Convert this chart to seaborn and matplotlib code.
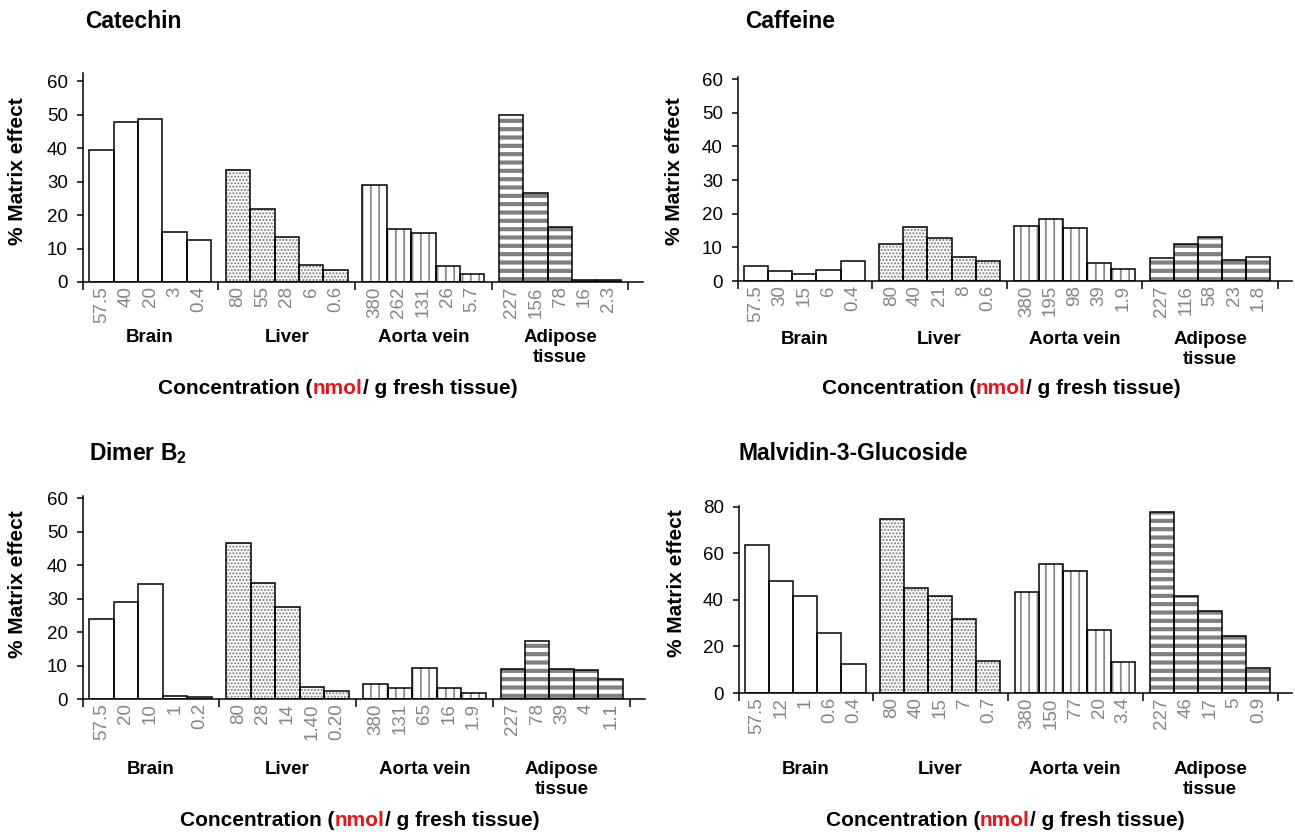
import matplotlib
matplotlib.use("Agg")
import matplotlib.pyplot as plt
import matplotlib.transforms as mtransforms
from matplotlib.offsetbox import TextArea, HPacker, AnnotationBbox
from matplotlib.ticker import FixedLocator
import numpy as np
import pandas as pd
import seaborn as sns

sns.set_theme(style="white")
plt.rcParams["font.family"] = ["Liberation Sans", "DejaVu Sans"]
plt.rcParams["mathtext.fontset"] = "custom"
plt.rcParams["mathtext.rm"] = "Liberation Sans"
plt.rcParams["mathtext.bf"] = "Liberation Sans:bold"

# ---------------- data ----------------
tissues = ["Brain", "Liver", "Aorta vein", "Adipose\ntissue"]

catechin_conc = [["57.5", "40", "20", "3", "0.4"],
                 ["80", "55", "28", "6", "0.6"],
                 ["380", "262", "131", "26", "5.7"],
                 ["227", "156", "78", "16", "2.3"]]
catechin_vals = [[39.4, 47.7, 48.7, 14.8, 12.5],
                 [33.3, 21.8, 13.3, 5.0, 3.7],
                 [28.9, 15.8, 14.7, 4.7, 2.3],
                 [49.9, 26.5, 16.5, 0.5, 0.5]]

caffeine_conc = [["57.5", "30", "15", "6", "0.4"],
                 ["80", "40", "21", "8", "0.6"],
                 ["380", "195", "98", "39", "1.9"],
                 ["227", "116", "58", "23", "1.8"]]
caffeine_vals = [[4.6, 2.9, 2.0, 3.2, 5.9],
                 [10.9, 15.9, 12.9, 7.2, 5.9],
                 [16.4, 18.5, 15.6, 5.4, 3.5],
                 [6.9, 10.9, 13.0, 6.2, 7.2]]

dimer_conc = [["57.5", "20", "10", "1", "0.2"],
              ["80", "28", "14", "1.40", "0.20"],
              ["380", "131", "65", "16", "1.9"],
              ["227", "78", "39", "4", "1.1"]]
dimer_vals = [[23.8, 28.9, 34.2, 1.0, 0.5],
              [46.5, 34.7, 27.4, 3.6, 2.3],
              [4.5, 3.2, 9.3, 3.4, 1.7],
              [9.0, 17.3, 9.0, 8.6, 5.9]]

malvidin_conc = [["57.5", "12", "1", "0.6", "0.4"],
                 ["80", "40", "15", "7", "0.7"],
                 ["380", "150", "77", "20", "3.4"],
                 ["227", "46", "17", "5", "0.9"]]
malvidin_vals = [[63.5, 48.2, 41.7, 25.8, 12.5],
                 [74.8, 45.0, 41.6, 31.8, 13.8],
                 [43.6, 55.3, 52.6, 27.2, 13.5],
                 [78.0, 41.6, 35.4, 24.5, 10.8]]

titles = ["Catechin", "Caffeine", r"Dimer B$_{\mathbf{2}}$", "Malvidin-3-Glucoside"]
ylabel_text = "% Matrix effect"
xlabel_parts = [("Concentration (", "black"), ("nmol", "#e8141b"), ("/ g fresh tissue)", "black")]

# ---------------- layout ----------------
W, H = 1295, 832
fig = plt.figure(figsize=(W / 100, H / 100), dpi=100)

STEP = 5.6
patterns = [
    dict(hatch=None, color="white", lw=1.0),
    dict(hatch=".....", color="#7a7a7a", lw=1.0),
    dict(hatch="||", color="#8a8a8a", lw=1.3),
    dict(hatch="--", color="#808080", lw=3.0),
]

panels = [
    dict(title=titles[0], conc=catechin_conc, vals=catechin_vals, ymax=62.4, ystep=10, ytop=60,
         box=(83, 643, 73, 282), title_xy=(85, 22), ylabel_xy=(18, 171), tissue_y=342, xlabel_xy=(338, 388)),
    dict(title=titles[1], conc=caffeine_conc, vals=caffeine_vals, ymax=60.6, ystep=10, ytop=60,
         box=(738, 1292, 77, 281), title_xy=(745, 22), ylabel_xy=(674, 171), tissue_y=344, xlabel_xy=(1001, 388)),
    dict(title=titles[2], conc=dimer_conc, vals=dimer_vals, ymax=60.6, ystep=10, ytop=60,
         box=(83, 645, 496, 699), title_xy=(89, 453), ylabel_xy=(18, 584), tissue_y=774, xlabel_xy=(360, 820)),
    dict(title=titles[3], conc=malvidin_conc, vals=malvidin_vals, ymax=80.4, ystep=20, ytop=80,
         box=(739, 1292, 506, 693), title_xy=(738, 453), ylabel_xy=(677, 583), tissue_y=774, xlabel_xy=(1005, 820)),
]

LINE_STEP = 20  # px between the two lines of a tissue label

for P in panels:
    l, r, t, z = P["box"]
    ax = fig.add_axes([l / W, (H - z) / H, (r - l) / W, (z - t) / H])

    rows = []
    for g, (tis, cs, vs) in enumerate(zip(tissues, P["conc"], P["vals"])):
        for i, (c, v) in enumerate(zip(cs, vs)):
            rows.append(dict(tissue=tis, conc=c, value=v, group=g, pos=round(g * STEP + i, 3)))
    df = pd.DataFrame(rows)

    # pattern layer
    for g in range(4):
        sub = df[df.group == g]
        pat = patterns[g]
        n0 = len(ax.patches)
        with plt.rc_context({"hatch.linewidth": pat["lw"]}):
            sns.barplot(data=sub, x="pos", y="value", native_scale=True, width=1.0,
                        color="white", saturation=1, edgecolor=pat["color"], linewidth=0,
                        hatch=pat["hatch"], errorbar=None, ax=ax)
        for p in ax.patches[n0:]:
            if hasattr(p, "set_hatch_linewidth"):
                p.set_hatch_linewidth(pat["lw"])
    # outline layer
    sns.barplot(data=df, x="pos", y="value", native_scale=True, width=1.0, fill=False,
                color="black", linewidth=1.1, errorbar=None, ax=ax)

    ax.set_xlim(-0.75, 22.2)
    ax.set_ylim(0, P["ymax"])
    ax.set_xlabel("")
    ax.set_ylabel("")

    ax.set_xticks(df["pos"].tolist())
    ax.set_xticklabels(df["conc"].tolist(), rotation=90, va="top", ha="center",
                       color="#858585", fontsize=13.5)
    ax.tick_params(axis="x", which="major", length=0, pad=3, bottom=True)
    seps = [-0.74] + [g * STEP + 4.5 + (STEP - 5) / 2 for g in range(4)]
    ax.xaxis.set_minor_locator(FixedLocator(seps))
    ax.tick_params(axis="x", which="minor", length=6, width=1.1, direction="out",
                   color="black", bottom=True)

    ax.set_yticks(np.arange(0, P["ytop"] + 1, P["ystep"]))
    ax.tick_params(axis="y", length=4, width=1.1, direction="out", left=True,
                   labelsize=13.5, pad=7, color="black", labelcolor="black")

    for s in ["top", "right"]:
        ax.spines[s].set_visible(False)
    for s in ["left", "bottom"]:
        ax.spines[s].set_color("black")
        ax.spines[s].set_linewidth(1.1)
    ax.patch.set_alpha(0)

    trans = mtransforms.blended_transform_factory(ax.transData, fig.transFigure)
    for g, tis in enumerate(tissues):
        for k, line in enumerate(tis.split("\n")):
            ax.text(g * STEP + 2, (H - P["tissue_y"] - k * LINE_STEP) / H, line,
                    transform=trans, ha="center", va="baseline", fontsize=13.5,
                    fontweight="bold", color="black")

    tx, ty = P["title_xy"]
    fig.text(tx / W, 1 - ty / H, P["title"], ha="left", va="center", fontsize=16.5,
             fontweight="bold", color="black")
    yx, yy = P["ylabel_xy"]
    fig.text(yx / W, 1 - yy / H, ylabel_text, rotation=90, ha="center", va="center",
             fontsize=15, fontweight="bold", color="black")

    areas = [TextArea(txt, textprops=dict(color=col, fontsize=15, fontweight="bold"))
             for txt, col in xlabel_parts]
    pack = HPacker(children=areas, align="baseline", pad=0, sep=0)
    xx, xy = P["xlabel_xy"]
    ab = AnnotationBbox(pack, (xx, H - xy), xycoords="figure pixels",
                        box_alignment=(0.5, 0.5), frameon=False, pad=0)
    fig.add_artist(ab)

fig.savefig("out.png", dpi=100, facecolor="white")
